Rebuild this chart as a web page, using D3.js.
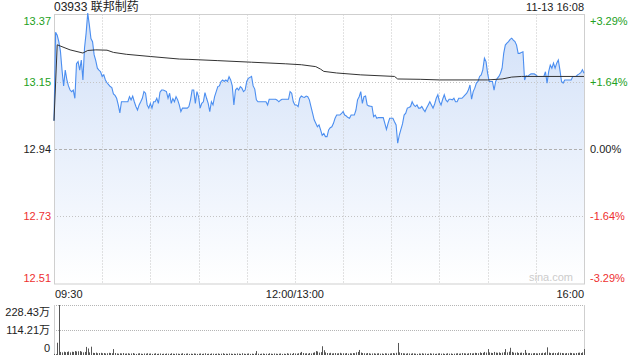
<!DOCTYPE html>
<html><head><meta charset="utf-8">
<script src="https://cdn.jsdelivr.net/npm/d3@7/dist/d3.min.js"></script>
<style>
html,body{margin:0;padding:0;background:#fff;}
svg{display:block;font-family:"Liberation Sans",Arial,"Noto Sans CJK SC",sans-serif;}
</style></head>
<body><svg id="c" width="640" height="360"></svg>
<script>
const title = "03933 联邦制药";
const stamp = "11-13 16:08";
const prevClose = 12.94;
const maxPct = 3.29;
const priceTicks = ["13.37","13.15","12.94","12.73","12.51"];
const pctTicks = ["+3.29%","+1.64%","0.00%","-1.64%","-3.29%"];
const pctValues = [3.29, 1.64, 0, -1.64, -3.29];
const timeLabels = ["09:30","12:00/13:00","16:00"];
const timeMinutes = [0, 150, 330];
const volTicks = ["228.43万","114.21万","0"];
const volTickValues = [228.43, 114.21, 0];

// price per minute (index = minutes of trading since 09:30, lunch removed)
const prices = [
13.03,13.31,13.30,13.28,13.25,13.19,13.14,13.19,13.16,13.14,
13.127,13.122,13.127,13.101,13.21,13.217,13.19,13.222,13.159,13.26,
13.307,13.37,13.333,13.29,13.28,13.238,13.22,13.196,13.19,13.185,
13.17,13.175,13.159,13.15,13.144,13.138,13.135,13.115,13.11,13.101,
13.08,13.055,13.09,13.09,13.09,13.09,13.09,13.106,13.096,13.108,
13.09,13.075,13.064,13.08,13.09,13.101,13.122,13.117,13.08,13.07,
13.085,13.07,13.09,13.09,13.101,13.085,13.12,13.127,13.127,13.125,
13.122,13.101,13.117,13.085,13.10,13.09,13.106,13.096,13.08,13.059,
13.07,13.07,13.07,13.07,13.075,13.096,13.127,13.127,13.085,13.122,
13.106,13.07,13.085,13.09,13.119,13.101,13.085,13.059,13.09,13.08,
13.106,13.122,13.138,13.14,13.154,13.159,13.154,13.159,13.154,13.169,
13.159,13.14,13.08,13.127,13.133,13.127,13.138,13.133,13.122,13.127,
13.154,13.164,13.167,13.17,13.14,13.13,13.096,13.09,13.09,13.09,
13.09,13.09,13.09,13.08,13.098,13.098,13.098,13.098,13.098,13.095,
13.09,13.095,13.098,13.098,13.098,13.098,13.098,13.122,13.117,13.09,
13.08,13.08,13.075,13.101,13.108,13.105,13.104,13.108,13.106,13.096,
13.075,13.054,13.033,13.022,13.011,13.017,13.001,12.984,12.99,12.98,
12.98,13.001,13.008,13.011,13.022,13.038,13.048,13.048,13.048,13.053,
13.059,13.048,13.045,13.04,13.038,13.048,13.048,13.048,13.064,13.096,
13.106,13.122,13.085,13.106,13.108,13.08,13.077,13.076,13.075,13.043,
13.048,13.038,13.04,13.04,13.04,13.04,13.022,13.003,13.022,13.038,
13.038,13.038,13.027,13.017,12.959,12.985,13.003,13.02,13.048,13.054,
13.07,13.072,13.075,13.09,13.08,13.075,13.08,13.07,13.07,13.075,
13.066,13.059,13.07,13.08,13.09,13.08,13.07,13.083,13.101,13.112,
13.09,13.08,13.098,13.112,13.096,13.09,13.098,13.098,13.096,13.101,
13.09,13.09,13.101,13.101,13.101,13.106,13.112,13.117,13.127,13.143,
13.098,13.122,13.133,13.149,13.154,13.17,13.175,13.191,13.228,13.217,
13.18,13.154,13.154,13.154,13.127,13.154,13.164,13.17,13.18,13.196,
13.243,13.269,13.275,13.28,13.287,13.291,13.285,13.28,13.269,13.243,
13.243,13.246,13.248,13.159,13.172,13.17,13.175,13.178,13.178,13.178,
13.175,13.17,13.17,13.17,13.17,13.17,13.185,13.149,13.185,13.206,
13.196,13.212,13.196,13.212,13.222,13.191,13.154,13.149,13.159,13.159,
13.159,13.159,13.159,13.17,13.17,13.17,13.175,13.178,13.182,13.191,
13.18
];

// average price line, read at a few minutes
const avgMinutes = [0,2,10,18,21,26,33,37,45,60,78,84,102,123,144,154,163,166,168,176,191,212,214,228,240,270,279,285,291,330];
const avgPrices  = [13.03,13.27,13.254,13.244,13.252,13.254,13.253,13.246,13.24,13.233,13.225,13.224,13.22,13.215,13.21,13.207,13.201,13.193,13.186,13.181,13.175,13.17,13.162,13.161,13.159,13.159,13.162,13.168,13.17,13.17];

// volume per minute, in 万
const volumes = [
5,4,56,228.43,14,12,15,13,14,16,12,15,14,18,16,17,18,15,12,14,37,30,12,38,10,9,11,8,9,10,
8,9,7,8,10,9,8,27,9,7,6,8,7,9,6,7,8,6,7,9,6,5,7,8,6,5,7,6,8,6,
7,5,6,8,5,6,7,5,6,5,7,6,5,8,6,5,7,6,5,6,8,5,6,7,5,6,5,7,6,5,
6,7,5,6,8,5,6,5,7,6,5,6,7,5,6,8,5,6,5,7,6,5,6,5,7,6,5,8,6,5,
6,7,5,6,5,7,18,6,5,6,7,5,6,5,8,6,5,7,6,5,6,7,5,6,5,8,6,7,5,9,
7,6,8,10,14,9,7,8,6,9,7,10,12,18,16,11,13,40,22,12,9,8,10,7,8,9,7,8,10,7,
8,7,9,6,8,7,9,8,12,14,23,11,9,8,7,9,8,6,7,8,6,7,8,6,7,5,8,7,6,7,
8,9,7,10,55,12,9,8,7,6,8,7,6,8,7,6,5,7,6,8,6,7,5,6,8,6,7,5,6,7,
8,6,7,5,6,8,6,7,5,6,7,8,6,7,9,8,7,6,8,9,7,8,10,9,8,12,9,10,14,11,
27,12,10,9,14,11,10,12,9,11,13,27,12,15,33,14,11,10,12,9,10,11,9,23,10,8,9,7,8,9,
8,7,9,8,10,9,12,35,11,9,8,10,9,8,12,10,9,8,7,9,8,10,9,8,7,9,10,11,9,12,27
];

const L = 54, R = 584, T = 14.5, B = 284;
const VT = 305, VB = 355;
const green = "#22a022", red = "#ee3030", dark = "#222";

const svg = d3.select("#c");
const x = d3.scaleLinear().domain([0, 330]).range([L, R]);
const y = d3.scaleLinear()
  .domain([prevClose * (1 - maxPct / 100), prevClose * (1 + maxPct / 100)])
  .range([B, T]);
const v = d3.scaleLinear().domain([0, 228.43]).range([VB, VT]);

const defs = svg.append("defs");
const grad = defs.append("linearGradient").attr("id", "g")
  .attr("gradientUnits", "userSpaceOnUse").attr("x1", 0).attr("x2", 0).attr("y1", T).attr("y2", B);
grad.append("stop").attr("offset", "0%").attr("stop-color", "#d1e0f8");
grad.append("stop").attr("offset", "100%").attr("stop-color", "#ffffff");

// area
const pts = prices.map((p, i) => [i, p]);
svg.append("path").datum(pts)
  .attr("d", d3.area().x(d => x(d[0])).y0(B).y1(d => y(d[1])))
  .attr("fill", "url(#g)");

// grid lines
const gridVals = pctValues.map(p => prevClose * (1 + p / 100));
svg.selectAll(".hg").data(gridVals.slice(1, 4)).enter().append("line")
  .attr("x1", L).attr("x2", R)
  .attr("y1", d => Math.round(y(d)) + 0.5).attr("y2", d => Math.round(y(d)) + 0.5)
  .attr("stroke", (d, i) => i === 1 ? "#b0b0b0" : "#c4c4c4")
  .attr("stroke-dasharray", (d, i) => i === 1 ? "3,2" : "1,2");
const vgrid = d3.range(30, 330, 30);
svg.selectAll(".vg").data(vgrid).enter().append("line")
  .attr("x1", d => Math.round(x(d)) + 0.5).attr("x2", d => Math.round(x(d)) + 0.5)
  .attr("y1", T).attr("y2", B)
  .attr("stroke", "#c4c4c4").attr("stroke-dasharray", "1,2");

// border
svg.append("rect").attr("x", L + 0.5).attr("y", T).attr("width", R - L).attr("height", B - T)
  .attr("fill", "none").attr("stroke", "#cfcfcf");

// watermark
svg.append("text").attr("x", 573).attr("y", 281).attr("text-anchor", "end")
  .attr("font-size", 11).attr("fill", "#cccccc").text("sina.com");

// price line
svg.append("path").datum(pts)
  .attr("d", d3.line().x(d => x(d[0])).y(d => y(d[1])))
  .attr("fill", "none").attr("stroke", "#4b8ef0").attr("stroke-width", 1.1);

// average line
const avgPts = avgMinutes.map((m, i) => [m, avgPrices[i]]);
svg.append("path").datum(avgPts)
  .attr("d", d3.line().x(d => x(d[0])).y(d => y(d[1])))
  .attr("fill", "none").attr("stroke", "#333").attr("stroke-width", 1);

// title
svg.append("text").attr("x", L).attr("y", 11).attr("font-size", 12).attr("fill", dark).text(title);
svg.append("text").attr("x", R).attr("y", 11).attr("font-size", 11).attr("fill", dark).attr("text-anchor", "end").text(stamp);

// axis labels
const labelColor = i => i < 2 ? green : (i === 2 ? dark : red);
const labelY = (d, i) => {
  const yy = y(d);
  if (i === 0) return yy + 10;
  if (i === 4) return yy - 2.5;
  return yy + 4;
};
svg.selectAll(".pl").data(gridVals).enter().append("text")
  .attr("x", 51).attr("y", labelY).attr("text-anchor", "end")
  .attr("font-size", 11).attr("fill", (d, i) => labelColor(i)).text((d, i) => priceTicks[i]);
svg.selectAll(".pr").data(gridVals).enter().append("text")
  .attr("x", 590).attr("y", labelY).attr("text-anchor", "start")
  .attr("font-size", 11).attr("fill", (d, i) => labelColor(i)).text((d, i) => pctTicks[i]);

// time labels
svg.selectAll(".tl").data(timeMinutes).enter().append("text")
  .attr("x", (d, i) => i === 0 ? x(d) + 1 : x(d))
  .attr("y", 297.5)
  .attr("text-anchor", (d, i) => i === 0 ? "start" : (i === 1 ? "middle" : "end"))
  .attr("font-size", 11).attr("fill", dark).text((d, i) => timeLabels[i]);

// volume panel
svg.selectAll(".vgl").data([228.43, 114.21]).enter().append("line")
  .attr("x1", L).attr("x2", R).attr("y1", d => Math.round(v(d)) + 0.5).attr("y2", d => Math.round(v(d)) + 0.5)
  .attr("stroke", "#b5b5b5").attr("stroke-dasharray", "1,1");
svg.append("line").attr("x1", L + 0.5).attr("x2", L + 0.5).attr("y1", VT).attr("y2", VB).attr("stroke", "#cfcfcf");
svg.append("line").attr("x1", R + 0.5).attr("x2", R + 0.5).attr("y1", VT).attr("y2", VB).attr("stroke", "#cfcfcf");
svg.selectAll(".vb").data(volumes).enter().append("rect")
  .attr("x", (d, i) => Math.round(x(i)))
  .attr("width", 1)
  .attr("y", d => v(d))
  .attr("height", d => VB - v(d))
  .attr("fill", "#555");
svg.selectAll(".vl").data(volTickValues).enter().append("text")
  .attr("x", 50)
  .attr("y", (d, i) => i === 0 ? v(d) + 10.5 : (i === 1 ? v(d) + 4 : v(d) - 3.5))
  .attr("text-anchor", "end").attr("font-size", 11).attr("fill", dark)
  .text((d, i) => volTicks[i]);
</script></body></html>
